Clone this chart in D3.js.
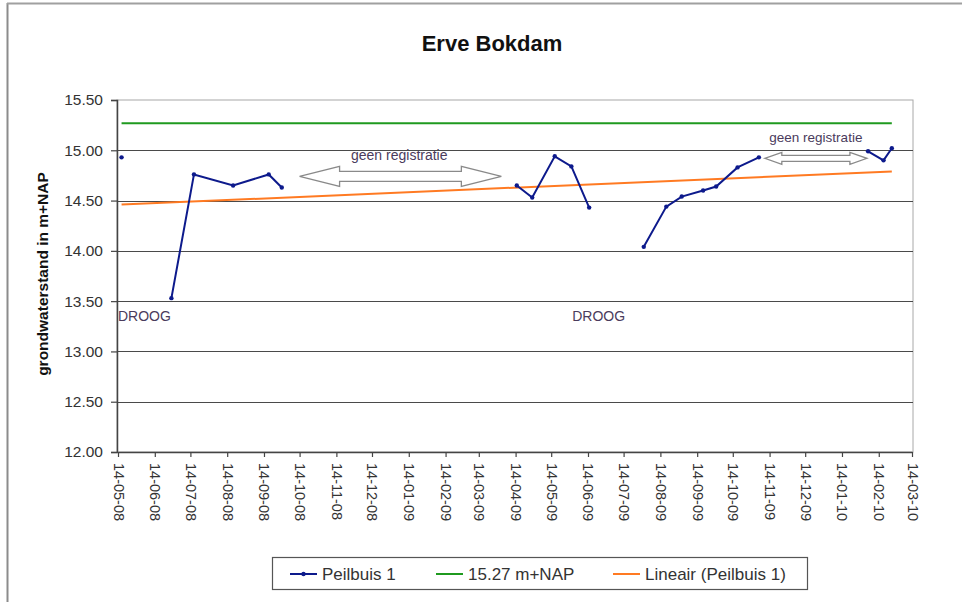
<!DOCTYPE html>
<html>
<head>
<meta charset="utf-8">
<script src="https://cdn.jsdelivr.net/npm/d3@7/dist/d3.min.js"></script>
<style>
  body { margin: 0; background: #fff; }
  svg text { font-family: Arial, "Liberation Sans", sans-serif; }
</style>
</head>
<body>
<svg id="chart" width="962" height="602"></svg>
<script>
// data
const dates = ["2008-05-17", "2008-06-28", "2008-07-17", "2008-08-19", "2008-09-18", "2008-09-29",
  "2009-04-15", "2009-04-28", "2009-05-17", "2009-05-31", "2009-06-15",
  "2009-07-31", "2009-08-19", "2009-09-01", "2009-09-19", "2009-09-30", "2009-10-18", "2009-11-05",
  "2010-02-05", "2010-02-18", "2010-02-25"];
const peilbuis = [14.93, 13.53, 14.76, 14.65, 14.76, 14.63,
  14.65, 14.53, 14.94, 14.84, 14.43,
  14.04, 14.44, 14.54, 14.60, 14.64, 14.83, 14.93,
  14.99, 14.90, 15.02];
// segment index per point (gaps = DROOG / geen registratie)
const segment = [0, 1, 1, 1, 1, 1, 2, 2, 2, 2, 2, 3, 3, 3, 3, 3, 3, 3, 4, 4, 4];
const refLevel = 15.27;
const trend = [14.46, 14.79];
const tickLabels = ["14-05-08", "14-06-08", "14-07-08", "14-08-08", "14-09-08", "14-10-08", "14-11-08",
  "14-12-08", "14-01-09", "14-02-09", "14-03-09", "14-04-09", "14-05-09", "14-06-09", "14-07-09",
  "14-08-09", "14-09-09", "14-10-09", "14-11-09", "14-12-09", "14-01-10", "14-02-10", "14-03-10"];
const yTicks = [12.0, 12.5, 13.0, 13.5, 14.0, 14.5, 15.0, 15.5];

const parse = d3.timeParse("%Y-%m-%d");
const parseTick = d3.timeParse("%d-%m-%y");
const tickDates = tickLabels.map(parseTick);
const points = dates.map((d, i) => ({ date: parse(d), value: peilbuis[i], seg: segment[i] }));

const svg = d3.select("#chart");
const plotLeft = 117, plotRight = 913, plotTop = 100, plotBottom = 452;

const x = d3.scaleTime()
  .domain([tickDates[0], tickDates[tickDates.length - 1]])
  .range([plotLeft + 1, plotRight - 1]);
const y = d3.scaleLinear().domain([12, 15.5]).range([plotBottom, plotTop]);

// outer frame pieces
svg.append("line").attr("x1", 7.5).attr("x2", 7.5).attr("y1", 3).attr("y2", 602)
  .attr("stroke", "#8c8c8c").attr("stroke-width", 2);
svg.append("line").attr("x1", 7).attr("x2", 962).attr("y1", 3.5).attr("y2", 3.5)
  .attr("stroke", "#a0a0a0").attr("stroke-width", 2);

// title
svg.append("text").attr("x", 492).attr("y", 51).attr("text-anchor", "middle")
  .attr("font-size", 22).attr("font-weight", "bold").attr("fill", "#111").text("Erve Bokdam");

// plot frame
svg.append("rect").attr("x", plotLeft).attr("y", plotTop)
  .attr("width", plotRight - plotLeft).attr("height", plotBottom - plotTop)
  .attr("fill", "none").attr("stroke", "#a8a8a8");

// gridlines
svg.append("g").selectAll("line").data(yTicks.slice(1, -1)).join("line")
  .attr("x1", plotLeft).attr("x2", plotRight)
  .attr("y1", d => Math.round(y(d)) + 0.5).attr("y2", d => Math.round(y(d)) + 0.5)
  .attr("stroke", "#4a4a4a").attr("stroke-width", 1.2);

// y axis
const yAxis = svg.append("g").attr("transform", `translate(${plotLeft},0)`)
  .call(d3.axisLeft(y).tickValues(yTicks).tickFormat(d3.format(".2f")).tickSize(6).tickPadding(8));
yAxis.select(".domain").attr("stroke", "#444").attr("stroke-width", 1.5);
yAxis.selectAll(".tick line").attr("stroke", "#444").attr("stroke-width", 1.2);
yAxis.selectAll(".tick text").attr("font-size", 15.5).attr("fill", "#333")
  .attr("font-family", "Arial, 'Liberation Sans', sans-serif");

// x axis
const xAxis = svg.append("g").attr("transform", `translate(0,${plotBottom})`)
  .call(d3.axisBottom(x).tickValues(tickDates).tickFormat(d3.timeFormat("%d-%m-%y")).tickSize(5).tickSizeOuter(0));
xAxis.select(".domain").attr("stroke", "#444").attr("stroke-width", 1.5);
xAxis.selectAll(".tick line").attr("stroke", "#444").attr("stroke-width", 1.2);
xAxis.selectAll(".tick text")
  .attr("font-size", 14.5).attr("fill", "#333").attr("font-family", "Arial, 'Liberation Sans', sans-serif")
  .attr("text-anchor", "start").attr("dy", null).attr("y", 0)
  .attr("transform", "translate(-5,11) rotate(90)");

// y title
svg.append("text").attr("transform", `translate(48,${(plotTop + plotBottom) / 2 - 2}) rotate(-90)`)
  .attr("text-anchor", "middle").attr("font-size", 15.5).attr("font-weight", "bold").attr("fill", "#111")
  .text("grondwaterstand in m+NAP");

// reference level and trend
const first = points[0].date, last = points[points.length - 1].date;
svg.append("line").attr("x1", x(first)).attr("x2", x(last))
  .attr("y1", y(refLevel)).attr("y2", y(refLevel))
  .attr("stroke", "#1f9a1f").attr("stroke-width", 2);
svg.append("line").attr("x1", x(first)).attr("x2", x(last))
  .attr("y1", y(trend[0])).attr("y2", y(trend[1]))
  .attr("stroke", "#ff7a22").attr("stroke-width", 2);

// Peilbuis 1 series
const line = d3.line().x(d => x(d.date)).y(d => y(d.value));
const groups = d3.groups(points, d => d.seg);
svg.append("g").selectAll("path").data(groups).join("path")
  .attr("d", g => line(g[1]))
  .attr("fill", "none").attr("stroke", "#0d1a8c").attr("stroke-width", 2);
svg.append("g").selectAll("circle").data(points).join("circle")
  .attr("cx", d => x(d.date)).attr("cy", d => y(d.value)).attr("r", 2.2)
  .attr("fill", "#0d1a8c");

// annotations
function doubleArrow(d1, d2, v, headLen, headHalf, shaftHalf) {
  const x1 = x(parse(d1)), x2 = x(parse(d2)), cy = y(v);
  const p = [
    [x1, cy], [x1 + headLen, cy - headHalf], [x1 + headLen, cy - shaftHalf],
    [x2 - headLen, cy - shaftHalf], [x2 - headLen, cy - headHalf], [x2, cy],
    [x2 - headLen, cy + headHalf], [x2 - headLen, cy + shaftHalf],
    [x1 + headLen, cy + shaftHalf], [x1 + headLen, cy + headHalf]
  ];
  svg.append("path").attr("d", "M" + p.join("L") + "Z")
    .attr("fill", "#fff").attr("stroke", "#8a8a8a").attr("stroke-width", 1.3);
}
doubleArrow("2008-10-14", "2009-04-02", 14.74, 40, 10, 5);
doubleArrow("2009-11-10", "2010-02-04", 14.92, 17, 6, 3);

const noteColor = "#4a3b5c";
svg.append("text").attr("x", x(parse("2009-01-06"))).attr("y", y(14.90))
  .attr("text-anchor", "middle").attr("font-size", 14).attr("fill", noteColor).text("geen registratie");
svg.append("text").attr("x", x(parse("2009-12-23"))).attr("y", y(15.08))
  .attr("text-anchor", "middle").attr("font-size", 13.5).attr("fill", noteColor).text("geen registratie");
svg.append("text").attr("x", plotLeft + 1).attr("y", y(13.30))
  .attr("font-size", 14).attr("fill", noteColor).text("DROOG");
svg.append("text").attr("x", x(parse("2009-06-23"))).attr("y", y(13.30))
  .attr("text-anchor", "middle").attr("font-size", 14).attr("fill", noteColor).text("DROOG");

// legend
const legend = svg.append("g");
legend.append("rect").attr("x", 272.5).attr("y", 557.5).attr("width", 535).attr("height", 32)
  .attr("fill", "#fff").attr("stroke", "#555").attr("stroke-width", 1.2);
const legendItems = [
  { label: "Peilbuis 1", color: "#0d1a8c", x: 290, marker: true },
  { label: "15.27 m+NAP", color: "#1f9a1f", x: 436, marker: false },
  { label: "Lineair (Peilbuis 1)", color: "#ff7a22", x: 613, marker: false }
];
const li = legend.selectAll("g.item").data(legendItems).join("g").attr("class", "item")
  .attr("transform", d => `translate(${d.x},574)`);
li.append("line").attr("x1", 0).attr("x2", 27).attr("stroke", d => d.color).attr("stroke-width", 2);
li.filter(d => d.marker).append("circle").attr("cx", 13.5).attr("r", 2.2).attr("fill", d => d.color);
li.append("text").attr("x", 32).attr("y", 6).attr("font-size", 17).attr("fill", "#333").text(d => d.label);
</script>
</body>
</html>
